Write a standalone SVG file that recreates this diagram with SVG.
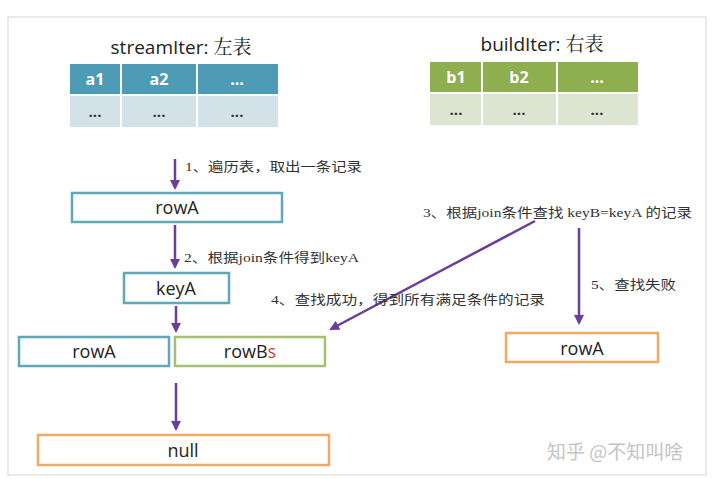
<svg xmlns="http://www.w3.org/2000/svg" width="720" height="479" viewBox="0 0 720 479">
<style>
.t{font-family:"Open Sans","Noto Sans",sans-serif;fill:#222;text-anchor:middle}
.title{font-size:19px}
.cell{font-size:16px;fill:#fff;font-weight:bold}
.dots{font-size:15px;fill:#333;font-weight:bold}
.box{fill:#fff;stroke-width:2.5}
.bt{font-size:18px}
.lbl{font-family:"Liberation Serif","Noto Sans CJK SC",serif;font-size:13px;fill:#333}
.conn{stroke:#6b3e9a;stroke-width:2.5;fill:none;marker-end:url(#ah)}
</style>
<defs>
<marker id="ah" viewBox="0 0 10 10" refX="8" refY="5" markerWidth="4" markerHeight="4" orient="auto" markerUnits="strokeWidth">
<path d="M0,0 L10,5 L0,10 z" fill="#6b3e9a"/>
</marker>
</defs>
<rect x="0" y="0" width="720" height="479" fill="#fff"/>
<rect x="8" y="17" width="698" height="458" fill="#fff" stroke="#e4e4e4" stroke-width="1.5"/>

<g id="streamIter">
<text class="t title" x="181" y="54">streamIter: <tspan font-family="'Noto Serif CJK SC','Noto Sans CJK SC',serif">左表</tspan></text>
<rect x="70" y="64" width="208" height="30" fill="#4e9bb6"/>
<rect x="70" y="96" width="208" height="31" fill="#d3e2e9"/>
<line x1="121" y1="64" x2="121" y2="127" stroke="#fff" stroke-width="2"/>
<line x1="197" y1="64" x2="197" y2="127" stroke="#fff" stroke-width="2"/>
<text class="t cell" x="95" y="85">a1</text>
<text class="t cell" x="159" y="85">a2</text>
<text class="t cell" x="237" y="85">...</text>
<text class="t dots" x="95" y="117">...</text>
<text class="t dots" x="159" y="117">...</text>
<text class="t dots" x="237" y="117">...</text>
</g>

<g id="buildIter">
<text class="t title" x="542" y="51">buildIter: <tspan font-family="'Noto Serif CJK SC','Noto Sans CJK SC',serif">右表</tspan></text>
<rect x="430" y="62" width="208" height="30" fill="#8eae50"/>
<rect x="430" y="94" width="208" height="31" fill="#dce5d1"/>
<line x1="482" y1="62" x2="482" y2="125" stroke="#fff" stroke-width="2"/>
<line x1="557" y1="62" x2="557" y2="125" stroke="#fff" stroke-width="2"/>
<text class="t cell" x="456" y="83">b1</text>
<text class="t cell" x="519" y="83">b2</text>
<text class="t cell" x="597" y="83">...</text>
<text class="t dots" x="456" y="115">...</text>
<text class="t dots" x="519" y="115">...</text>
<text class="t dots" x="597" y="115">...</text>
</g>

<g id="rowA1">
<rect class="box" x="72" y="193" width="210" height="29" stroke="#5ea9b8"/>
<text class="t bt" x="177" y="214">rowA</text>
</g>
<g id="keyA">
<rect class="box" x="124" y="273" width="105" height="30" stroke="#5ea9b8"/>
<text class="t bt" x="176" y="295">keyA</text>
</g>
<g id="rowA2">
<rect class="box" x="19" y="337" width="150" height="29" stroke="#5ea9b8"/>
<text class="t bt" x="94" y="358">rowA</text>
</g>
<g id="rowBs">
<rect class="box" x="175" y="337" width="150" height="29" stroke="#a5c070"/>
<text class="t bt" x="250" y="358">rowB<tspan fill="#d9413a">s</tspan></text>
</g>
<g id="null">
<rect class="box" x="38" y="435" width="291" height="30" stroke="#f0aa66"/>
<text class="t bt" x="183" y="457">null</text>
</g>
<g id="rowA3">
<rect class="box" x="506" y="333" width="152" height="29" stroke="#f0aa66"/>
<text class="t bt" x="582" y="355">rowA</text>
</g>

<g id="connectors">
<line class="conn" x1="175" y1="159" x2="175" y2="188"/>
<line class="conn" x1="175" y1="225" x2="175" y2="267"/>
<line class="conn" x1="176" y1="306" x2="176" y2="331"/>
<line class="conn" x1="176" y1="383" x2="176" y2="429"/>
<line class="conn" x1="535" y1="221" x2="331" y2="329"/>
<line class="conn" x1="579" y1="228" x2="579" y2="323"/>
</g>

<g id="labels">
<text class="lbl" x="185" y="171" textLength="177" lengthAdjust="spacingAndGlyphs">1、遍历表，取出一条记录</text>
<text class="lbl" x="184" y="262" textLength="175" lengthAdjust="spacingAndGlyphs">2、根据join条件得到keyA</text>
<text class="lbl" x="423" y="217" textLength="269" lengthAdjust="spacingAndGlyphs">3、根据join条件查找 keyB=keyA 的记录</text>
<text class="lbl" x="271" y="304" textLength="274" lengthAdjust="spacingAndGlyphs">4、查找成功，得到所有满足条件的记录</text>
<text class="lbl" x="591" y="289" textLength="85" lengthAdjust="spacingAndGlyphs">5、查找失败</text>
</g>

<text x="547" y="459" font-family="'Noto Sans CJK SC',sans-serif" font-size="19" fill="#c4c4c4">知乎 @不知叫啥</text>
</svg>
